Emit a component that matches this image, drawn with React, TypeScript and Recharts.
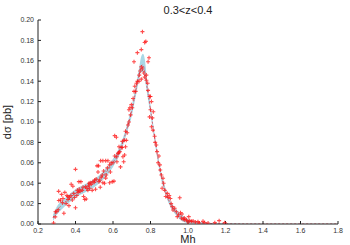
import React from 'react';
import { ComposedChart, Area, Line, Scatter, XAxis, YAxis } from 'recharts';

// theory curve (central value) and its uncertainty band
const curveMh = [0.28, 0.3, 0.33, 0.36, 0.4, 0.45, 0.5, 0.55, 0.6, 0.64, 0.68, 0.7, 0.72, 0.74, 0.75, 0.76, 0.77, 0.78, 0.8, 0.82, 0.84, 0.86, 0.88, 0.9, 0.93, 0.96, 1.0, 1.05, 1.1, 1.2, 1.3, 1.8];
const curveSigma = [0.006, 0.013, 0.019, 0.024, 0.03, 0.035, 0.04, 0.048, 0.06, 0.074, 0.097, 0.111, 0.129, 0.147, 0.155, 0.156, 0.148, 0.136, 0.112, 0.087, 0.064, 0.045, 0.032, 0.022, 0.013, 0.007, 0.003, 0.0015, 0.0007, 0.0002, 0, 0];
const bandLow = [0.003, 0.009, 0.015, 0.02, 0.026, 0.031, 0.036, 0.044, 0.056, 0.07, 0.093, 0.106, 0.124, 0.142, 0.149, 0.149, 0.142, 0.13, 0.107, 0.083, 0.06, 0.041, 0.029, 0.019, 0.01, 0.004, 0.001, 0.0005, 0, 0, 0, 0];
const bandHigh = [0.009, 0.017, 0.023, 0.028, 0.034, 0.039, 0.044, 0.052, 0.064, 0.078, 0.101, 0.116, 0.134, 0.154, 0.164, 0.167, 0.161, 0.144, 0.117, 0.091, 0.068, 0.049, 0.035, 0.025, 0.016, 0.01, 0.005, 0.0025, 0.0012, 0.0005, 0, 0];

// event points
const pointMh = [
  0.283, 0.292, 0.293, 0.3, 0.308, 0.311, 0.32, 0.31, 0.326, 0.333, 0.338, 0.343, 0.35, 0.354, 0.359, 0.365, 0.368, 0.377, 0.386, 0.383,
  0.395, 0.4, 0.4, 0.407, 0.414, 0.418, 0.429, 0.425, 0.436, 0.443, 0.449, 0.457, 0.454, 0.461, 0.472, 0.466, 0.479, 0.484, 0.475, 0.493,
  0.502, 0.489, 0.507, 0.515, 0.523, 0.52, 0.525, 0.529, 0.532, 0.537, 0.543, 0.546, 0.555, 0.561, 0.564, 0.534, 0.546, 0.561, 0.573, 0.582,
  0.596, 0.605, 0.582, 0.586, 0.6, 0.609, 0.618, 0.609, 0.621, 0.627, 0.632, 0.636, 0.64, 0.644, 0.65, 0.653, 0.657, 0.662, 0.667, 0.671,
  0.667, 0.676, 0.68, 0.685, 0.42, 0.44, 0.47, 0.5, 0.51, 0.55, 0.57, 0.59, 0.62, 0.63, 0.65, 0.66, 0.375, 0.39, 0.41, 0.33,
  0.36, 0.685, 0.694, 0.69, 0.698, 0.703, 0.707, 0.712, 0.716, 0.721, 0.725, 0.73, 0.739, 0.712, 0.73, 0.751, 0.757, 0.769, 0.775, 0.751,
  0.757, 0.764, 0.769, 0.751, 0.745, 0.74, 0.778, 0.778, 0.787, 0.792, 0.787, 0.785, 0.795, 0.8, 0.805, 0.795, 0.8, 0.81, 0.815, 0.805,
  0.813, 0.822, 0.831, 0.835, 0.845, 0.852, 0.858, 0.867, 0.862, 0.876, 0.881, 0.894, 0.9, 0.906, 0.916, 0.92, 0.84, 0.85, 0.87, 0.89,
  0.91, 0.825, 0.929, 0.938, 0.956, 0.943, 0.968, 0.965, 0.974, 0.983, 0.992, 1.004, 1.009, 1.018, 1.027, 1.039, 1.053, 1.08, 1.089, 1.107,
  1.143, 1.166, 1.196, 0.95, 0.96, 0.98, 1.0, 1.06,
];
const pointSigma = [
  0.001, 0.007, 0.012, 0.012, 0.014, 0.023, 0.0235, 0.032, 0.029, 0.025, 0.0105, 0.031, 0.02, 0.028, 0.027, 0.018, 0.026, 0.039, 0.037, 0.0235,
  0.026, 0.0536, 0.016, 0.028, 0.031, 0.0415, 0.0415, 0.032, 0.033, 0.027, 0.024, 0.0245, 0.0366, 0.035, 0.04, 0.033, 0.0405, 0.039, 0.035, 0.0415,
  0.043, 0.033, 0.034, 0.057, 0.057, 0.051, 0.0415, 0.043, 0.036, 0.046, 0.048, 0.0405, 0.04, 0.045, 0.048, 0.062, 0.062, 0.062, 0.062, 0.0405,
  0.0415, 0.042, 0.058, 0.051, 0.06, 0.0866, 0.085, 0.0667, 0.061, 0.069, 0.0758, 0.071, 0.056, 0.075, 0.081, 0.066, 0.061, 0.0676, 0.0758, 0.082,
  0.091, 0.0895, 0.097, 0.1, 0.034, 0.036, 0.038, 0.041, 0.044, 0.052, 0.055, 0.06, 0.066, 0.07, 0.075, 0.082, 0.028, 0.03, 0.033, 0.021,
  0.024, 0.112, 0.107, 0.114, 0.117, 0.114, 0.123, 0.13, 0.135, 0.13, 0.138, 0.14, 0.14, 0.159, 0.168, 0.171, 0.1886, 0.178, 0.179, 0.154,
  0.152, 0.148, 0.144, 0.142, 0.15, 0.146, 0.146, 0.141, 0.159, 0.163, 0.131, 0.138, 0.125, 0.125, 0.12, 0.105, 0.112, 0.104, 0.11, 0.0954,
  0.092, 0.086, 0.0775, 0.071, 0.0667, 0.053, 0.048, 0.0448, 0.035, 0.033, 0.027, 0.026, 0.028, 0.025, 0.017, 0.0137, 0.06, 0.058, 0.04, 0.03,
  0.02, 0.08, 0.0154, 0.012, 0.0258, 0.0072, 0.0098, 0.0056, 0.0046, 0.004, 0.004, 0.0072, 0.0033, 0.0026, 0.003, 0.002, 0.0023, 0.0026, 0.0013, 0.001,
  0.0013, 0.0033, 0.0013, 0.009, 0.011, 0.006, 0.002, 0.001,
];

const xTicks = [0.2, 0.4, 0.6, 0.8, 1.0, 1.2, 1.4, 1.6, 1.8];
const yTicks = [0, 0.02, 0.04, 0.06, 0.08, 0.1, 0.12, 0.14, 0.16, 0.18, 0.2];

const curveData = curveMh.map((mh, i) => ({
  mh,
  sigma: curveSigma[i],
  band: [bandLow[i], bandHigh[i]],
}));
const pointData = pointMh.map((mh, i) => ({ mh, sigma: pointSigma[i] }));

const font = '"Liberation Sans", Arial, sans-serif';
const tickStyle = { fontSize: 7, fill: '#333', fontFamily: font };

const Plus = (props: any) => {
  const { cx, cy } = props;
  if (cx == null || cy == null) return null;
  return (
    <path
      d={`M${cx - 2},${cy}h4M${cx},${cy - 2}v4`}
      stroke="#ff1010"
      strokeWidth={1.1}
      strokeOpacity={0.75}
    />
  );
};

export default function App() {
  return (
    <div style={{ position: 'absolute', left: 0, top: 0, width: 350, height: 245, background: '#fff' }}>
      <ComposedChart
        width={350}
        height={245}
        data={curveData}
        margin={{ top: 20, right: 12, bottom: 0, left: 0 }}
      >
        <XAxis
          xAxisId="b"
          dataKey="mh"
          type="number"
          domain={[0.2, 1.8]}
          ticks={xTicks}
          tickFormatter={(v: number) => v.toFixed(1)}
          tick={tickStyle}
          tickSize={-3}
          tickMargin={7}
          stroke="#222"
          height={21}
          allowDataOverflow
        />
        <XAxis
          xAxisId="t"
          orientation="top"
          dataKey="mh"
          type="number"
          domain={[0.2, 1.8]}
          ticks={xTicks}
          tick={false}
          tickSize={-3}
          stroke="#222"
          height={0}
          allowDataOverflow
        />
        <YAxis
          yAxisId="l"
          type="number"
          domain={[0, 0.2]}
          ticks={yTicks}
          tickFormatter={(v: number) => v.toFixed(2)}
          tick={tickStyle}
          tickSize={-3}
          tickMargin={7}
          stroke="#222"
          width={38}
          allowDataOverflow
        />
        <YAxis
          yAxisId="r"
          orientation="right"
          type="number"
          domain={[0, 0.2]}
          ticks={yTicks}
          tick={false}
          tickSize={-3}
          stroke="#222"
          width={0}
          allowDataOverflow
        />
        <Area
          xAxisId="b"
          yAxisId="l"
          dataKey="band"
          type="monotone"
          stroke="none"
          fill="#a9d8e6"
          fillOpacity={1}
          isAnimationActive={false}
        />
        <Line
          xAxisId="b"
          yAxisId="l"
          dataKey="sigma"
          type="monotone"
          stroke="#e06070"
          strokeWidth={1}
          strokeDasharray="2 2"
          dot={false}
          isAnimationActive={false}
        />
        <Scatter
          xAxisId="b"
          yAxisId="l"
          data={pointData}
          dataKey="sigma"
          shape={<Plus />}
          isAnimationActive={false}
        />
        <text x={188} y={14} textAnchor="middle" fontSize={11} fontFamily={font} fill="#222">
          0.3&lt;z&lt;0.4
        </text>
        <text x={188} y={243} textAnchor="middle" fontSize={11} fontFamily={font} fill="#222">
          Mh
        </text>
        <text
          x={11}
          y={122}
          textAnchor="middle"
          fontSize={11}
          fontFamily={font}
          fill="#222"
          transform="rotate(-90 11 122)"
        >
          dσ [pb]
        </text>
      </ComposedChart>
    </div>
  );
}
